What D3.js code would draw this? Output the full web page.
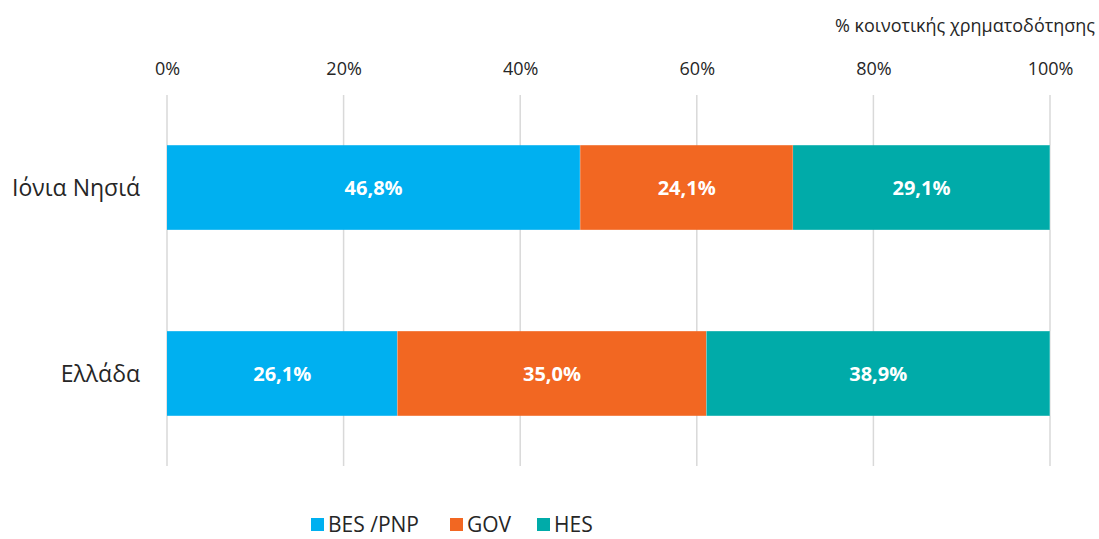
<!DOCTYPE html>
<html>
<head>
<meta charset="utf-8">
<script src="https://cdn.jsdelivr.net/npm/d3@7"></script>
<style>
  html, body { margin: 0; padding: 0; background: #fff; }
  svg { display: block; font-family: "Open Sans", "Noto Sans", sans-serif; }
</style>
</head>
<body>
<svg id="chart" width="1099" height="539"></svg>
<script>
// Regions and funding shares (%) per source
const categories = ["Ιόνια Νησιά", "Ελλάδα"];
const seriesNames = ["BES /PNP", "GOV", "HES"];
const besPnp = [46.8, 26.1];
const gov = [24.1, 35.0];
const hes = [29.1, 38.9];
const tickValues = [0, 20, 40, 60, 80, 100];
const axisTitle = "% κοινοτικής χρηματοδότησης";
const colors = ["#00B0F0", "#F26722", "#00ABA9"];

const svg = d3.select("#chart");
const margin = { left: 167, right: 49 };
const width = 1099;

const x = d3.scaleLinear().domain([0, 100]).range([margin.left, width - margin.right]);
const y = d3.scaleBand().domain(categories).range([95, 466]).paddingInner(0.545).paddingOuter(0.27);

// Stack the three series
const rows = categories.map((c, i) => ({ cat: c, "BES /PNP": besPnp[i], "GOV": gov[i], "HES": hes[i] }));
const stacked = d3.stack().keys(seriesNames)(rows);

// Vertical gridlines
svg.append("g").selectAll("line").data(tickValues).join("line")
  .attr("x1", d => x(d)).attr("x2", d => x(d))
  .attr("y1", 95).attr("y2", 466)
  .attr("stroke", "#d9d9d9").attr("stroke-width", 1.5);

// Top axis tick labels
const axis = d3.axisTop(x).tickValues(tickValues).tickSize(0).tickPadding(0).tickFormat(d => d + "%");
const ag = svg.append("g").attr("transform", "translate(0,75)").call(axis);
ag.select(".domain").remove();
ag.selectAll("text").attr("font-size", 18).attr("fill", "#262626")
  .attr("font-family", "'Open Sans', sans-serif");

// Axis title
svg.append("text").attr("x", 1095).attr("y", 32).attr("text-anchor", "end")
  .attr("font-size", 18).attr("fill", "#262626").text(axisTitle);

// Bars
const layers = svg.append("g").selectAll("g").data(stacked).join("g")
  .attr("fill", (d, i) => colors[i]);
layers.selectAll("rect").data(d => d).join("rect")
  .attr("x", d => x(d[0]))
  .attr("width", d => x(d[1]) - x(d[0]))
  .attr("y", d => y(d.data.cat))
  .attr("height", y.bandwidth());

// Segment separators
layers.selectAll("line.sep").data(d => d).join("line")
  .attr("class", "sep")
  .attr("x1", d => x(d[1])).attr("x2", d => x(d[1]))
  .attr("y1", d => y(d.data.cat)).attr("y2", d => y(d.data.cat) + y.bandwidth())
  .attr("stroke", "#ffffff").attr("stroke-opacity", 0.5).attr("stroke-width", 1);

// Value labels
layers.selectAll("text").data(d => d.map(v => ({ v, key: d.key }))).join("text")
  .attr("x", d => (x(d.v[0]) + x(d.v[1])) / 2)
  .attr("y", d => y(d.v.data.cat) + y.bandwidth() / 2)
  .attr("dy", "0.36em")
  .attr("text-anchor", "middle")
  .attr("fill", "#ffffff").attr("font-weight", "bold").attr("font-size", 20)
  .text(d => (d.v.data[d.key]).toFixed(1).replace(".", ",") + "%");

// Category labels
svg.append("g").selectAll("text").data(categories).join("text")
  .attr("x", 140).attr("y", d => y(d) + y.bandwidth() / 2)
  .attr("dy", "0.36em").attr("text-anchor", "end")
  .attr("font-size", 23).attr("fill", "#262626")
  .text(d => d);

// Legend
const legendX = [311, 450, 537];
const lg = svg.append("g").selectAll("g").data(seriesNames).join("g")
  .attr("transform", (d, i) => `translate(${legendX[i]},518)`);
lg.append("rect").attr("width", 13).attr("height", 13).attr("fill", (d, i) => colors[i]);
lg.append("text").attr("x", 17).attr("y", 13.5)
  .attr("font-size", 21).attr("fill", "#262626").text(d => d);
</script>
</body>
</html>
